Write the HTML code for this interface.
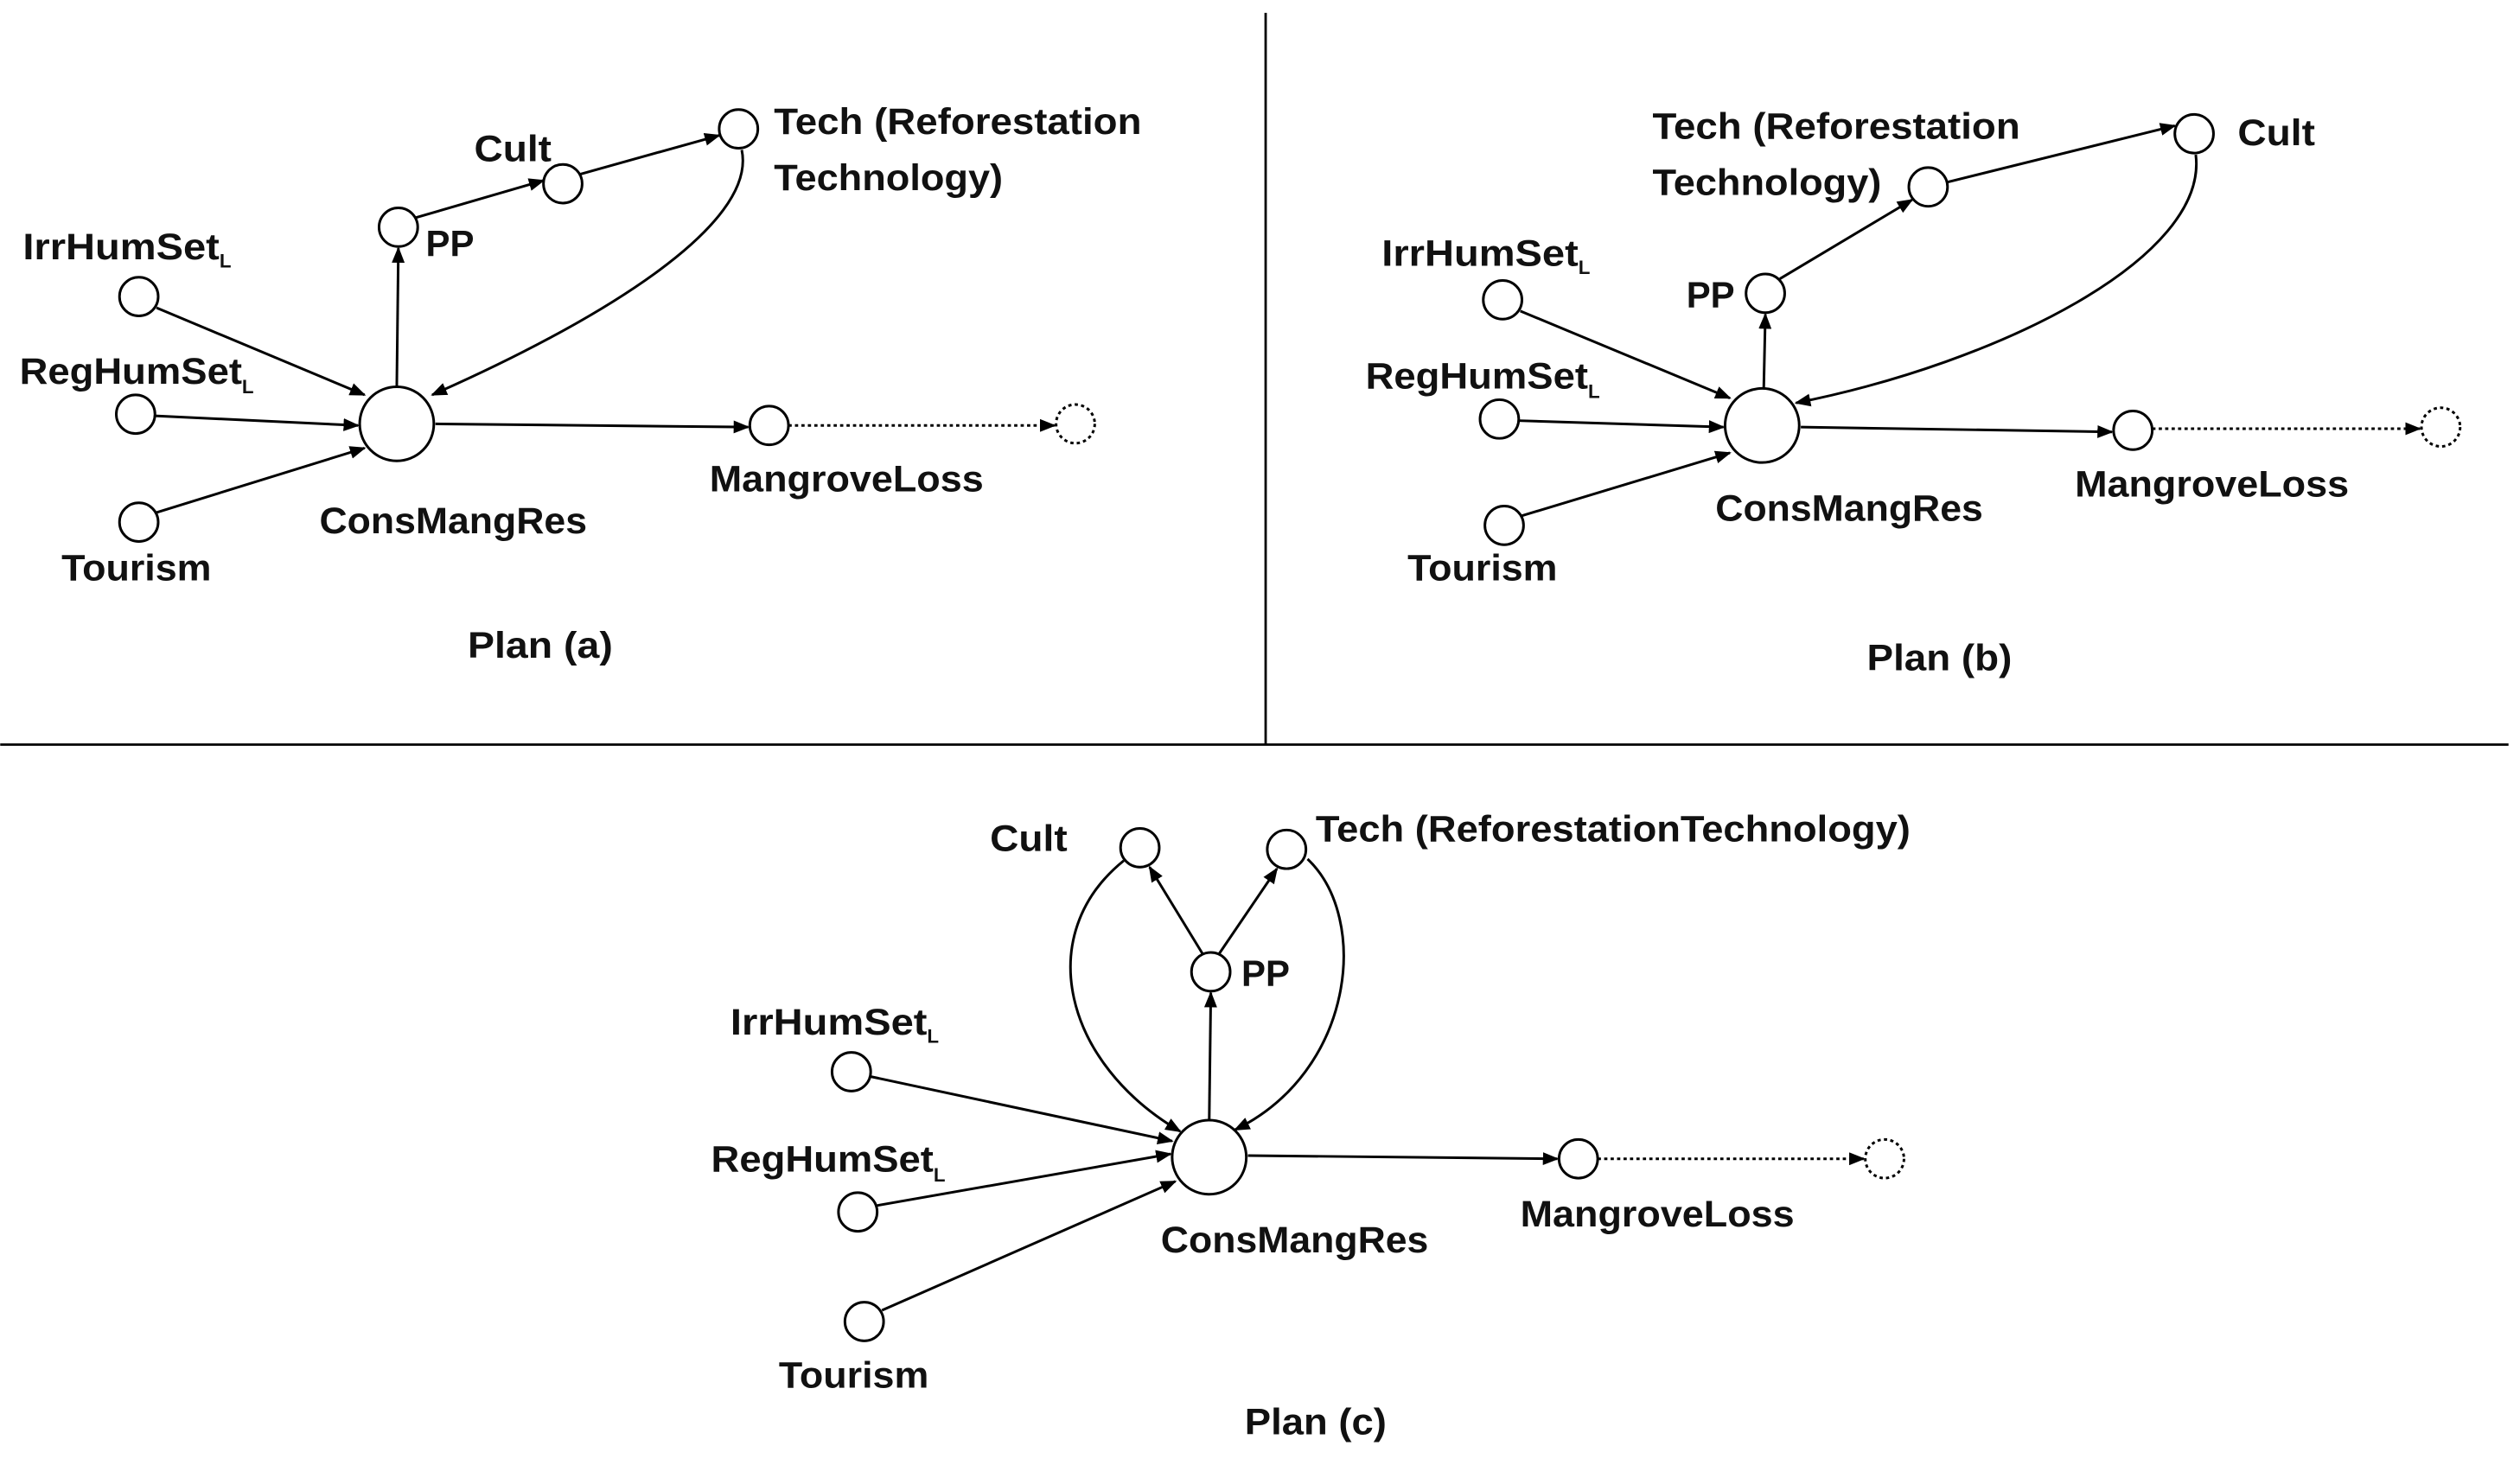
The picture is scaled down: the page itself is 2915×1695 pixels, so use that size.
<!DOCTYPE html>
<html><head><meta charset="utf-8"><style>
html,body{margin:0;padding:0;background:#fff;}
svg{display:block;}
text{font-family:"Liberation Sans",sans-serif;font-weight:bold;font-size:23px;fill:#111;}
</style></head><body>
<svg width="2915" height="1695" viewBox="0 0 1563 909" xmlns="http://www.w3.org/2000/svg">
<defs>
<marker id="a" markerWidth="10" markerHeight="8" refX="9" refY="4" orient="auto" markerUnits="userSpaceOnUse"><path d="M0,0 L10,4 L0,8 z" fill="#000"/></marker>
</defs>
<g stroke="#000" stroke-width="1.5" fill="none">
<line x1="0" y1="462" x2="1556" y2="462"/>
<line x1="785" y1="8" x2="785" y2="462"/>
</g>
<!-- Plan a -->
<g stroke="#000" stroke-width="1.6" fill="#fff">
<circle cx="86" cy="184" r="12"/><circle cx="84" cy="257" r="12"/><circle cx="86" cy="324" r="12"/>
<circle cx="246" cy="263" r="23"/><circle cx="247" cy="141" r="12"/><circle cx="349" cy="114" r="12"/>
<circle cx="458" cy="80" r="12"/><circle cx="477" cy="264" r="12"/>
<circle cx="667" cy="263" r="12" stroke-dasharray="2,2"/>
</g>
<g stroke="#000" stroke-width="1.6" fill="none" marker-end="url(#a)">
<line x1="97" y1="191" x2="226" y2="245"/>
<line x1="96" y1="258" x2="222" y2="264"/>
<line x1="97" y1="318" x2="226" y2="278"/>
<line x1="246" y1="240" x2="247" y2="154"/>
<line x1="258" y1="135" x2="337" y2="112"/>
<line x1="360" y1="108" x2="446" y2="84"/>
<path d="M460,93 C470,140 370,200 268,245"/>
<line x1="270" y1="263" x2="464" y2="265"/>
<line x1="489" y1="264" x2="654" y2="264" stroke-dasharray="2,2"/>
</g>
<text x="14" y="161" textLength="122" lengthAdjust="spacingAndGlyphs">IrrHumSet</text><text x="136" y="166" style="font-size:12px">L</text>
<text x="12" y="238" textLength="138" lengthAdjust="spacingAndGlyphs">RegHumSet</text><text x="150" y="244" style="font-size:12px">L</text>
<text x="38" y="360" textLength="93" lengthAdjust="spacingAndGlyphs">Tourism</text>
<text x="198" y="331" textLength="166" lengthAdjust="spacingAndGlyphs">ConsMangRes</text>
<text x="264" y="159" textLength="30" lengthAdjust="spacingAndGlyphs">PP</text>
<text x="294" y="100" textLength="48" lengthAdjust="spacingAndGlyphs">Cult</text>
<text x="480" y="83" textLength="228" lengthAdjust="spacingAndGlyphs">Tech (Reforestation</text>
<text x="480" y="118" textLength="142" lengthAdjust="spacingAndGlyphs">Technology)</text>
<text x="440" y="305" textLength="170" lengthAdjust="spacingAndGlyphs">MangroveLoss</text>
<text x="290" y="408" textLength="90" lengthAdjust="spacingAndGlyphs">Plan (a)</text>
<!-- Plan b -->
<g stroke="#000" stroke-width="1.6" fill="#fff">
<circle cx="932" cy="186" r="12"/><circle cx="930" cy="260" r="12"/><circle cx="933" cy="326" r="12"/>
<circle cx="1093" cy="264" r="23"/><circle cx="1095" cy="182" r="12"/><circle cx="1196" cy="116" r="12"/>
<circle cx="1361" cy="83" r="12"/><circle cx="1323" cy="267" r="12"/>
<circle cx="1514" cy="265" r="12" stroke-dasharray="2,2"/>
</g>
<g stroke="#000" stroke-width="1.6" fill="none" marker-end="url(#a)">
<line x1="943" y1="193" x2="1073" y2="247"/>
<line x1="942" y1="261" x2="1069" y2="265"/>
<line x1="944" y1="320" x2="1073" y2="281"/>
<line x1="1094" y1="241" x2="1095" y2="195"/>
<line x1="1104" y1="173" x2="1186" y2="124"/>
<line x1="1208" y1="113" x2="1349" y2="78"/>
<path d="M1362,96 C1370,160 1240,225 1114,250"/>
<line x1="1117" y1="265" x2="1310" y2="268"/>
<line x1="1335" y1="266" x2="1501" y2="266" stroke-dasharray="2,2"/>
</g>
<text x="857" y="165" textLength="122" lengthAdjust="spacingAndGlyphs">IrrHumSet</text><text x="979" y="170" style="font-size:12px">L</text>
<text x="847" y="241" textLength="138" lengthAdjust="spacingAndGlyphs">RegHumSet</text><text x="985" y="247" style="font-size:12px">L</text>
<text x="873" y="360" textLength="93" lengthAdjust="spacingAndGlyphs">Tourism</text>
<text x="1064" y="323" textLength="166" lengthAdjust="spacingAndGlyphs">ConsMangRes</text>
<text x="1046" y="191" textLength="30" lengthAdjust="spacingAndGlyphs">PP</text>
<text x="1388" y="90" textLength="48" lengthAdjust="spacingAndGlyphs">Cult</text>
<text x="1025" y="86" textLength="228" lengthAdjust="spacingAndGlyphs">Tech (Reforestation</text>
<text x="1025" y="121" textLength="142" lengthAdjust="spacingAndGlyphs">Technology)</text>
<text x="1287" y="308" textLength="170" lengthAdjust="spacingAndGlyphs">MangroveLoss</text>
<text x="1158" y="416" textLength="90" lengthAdjust="spacingAndGlyphs">Plan (b)</text>
<!-- Plan c -->
<g stroke="#000" stroke-width="1.6" fill="#fff">
<circle cx="528" cy="665" r="12"/><circle cx="532" cy="752" r="12"/><circle cx="536" cy="820" r="12"/>
<circle cx="750" cy="718" r="23"/><circle cx="751" cy="603" r="12"/><circle cx="707" cy="526" r="12"/>
<circle cx="798" cy="527" r="12"/><circle cx="979" cy="719" r="12"/>
<circle cx="1169" cy="719" r="12" stroke-dasharray="2,2"/>
</g>
<g stroke="#000" stroke-width="1.6" fill="none" marker-end="url(#a)">
<line x1="540" y1="668" x2="727" y2="708"/>
<line x1="544" y1="748" x2="726" y2="716"/>
<line x1="547" y1="813" x2="729" y2="733"/>
<line x1="750" y1="695" x2="751" y2="616"/>
<line x1="746" y1="592" x2="713" y2="538"/>
<line x1="756" y1="592" x2="792" y2="539"/>
<path d="M697,534 C640,580 660,660 732,702"/>
<path d="M811,533 C850,570 840,665 766,701"/>
<line x1="774" y1="717" x2="966" y2="719"/>
<line x1="991" y1="719" x2="1156" y2="719" stroke-dasharray="2,2"/>
</g>
<text x="453" y="642" textLength="122" lengthAdjust="spacingAndGlyphs">IrrHumSet</text><text x="575" y="647" style="font-size:12px">L</text>
<text x="441" y="727" textLength="138" lengthAdjust="spacingAndGlyphs">RegHumSet</text><text x="579" y="733" style="font-size:12px">L</text>
<text x="483" y="861" textLength="93" lengthAdjust="spacingAndGlyphs">Tourism</text>
<text x="720" y="777" textLength="166" lengthAdjust="spacingAndGlyphs">ConsMangRes</text>
<text x="770" y="612" textLength="30" lengthAdjust="spacingAndGlyphs">PP</text>
<text x="614" y="528" textLength="48" lengthAdjust="spacingAndGlyphs">Cult</text>
<text x="816" y="522" textLength="369" lengthAdjust="spacingAndGlyphs">Tech (ReforestationTechnology)</text>
<text x="943" y="761" textLength="170" lengthAdjust="spacingAndGlyphs">MangroveLoss</text>
<text x="772" y="890" textLength="88" lengthAdjust="spacingAndGlyphs">Plan (c)</text>
</svg>
</body></html>
